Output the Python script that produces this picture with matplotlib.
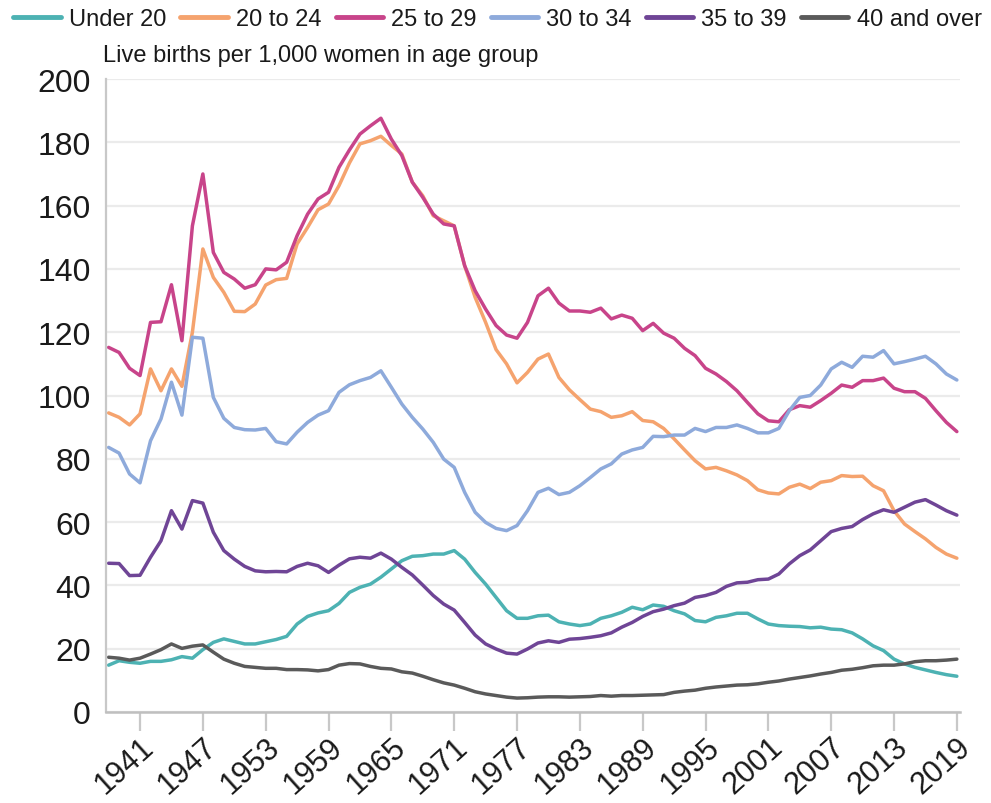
import matplotlib
matplotlib.use("Agg")
import matplotlib.pyplot as plt
import matplotlib.transforms as mtransforms
import numpy as np

plt.rcParams['font.family'] = ['Liberation Sans', 'DejaVu Sans']

years = list(range(1938, 2020))

under_20 = [14.8, 16.2, 15.7, 15.4, 16.0, 16.0, 16.5, 17.5, 17.0, 19.7,
            22.0, 23.1, 22.3, 21.5, 21.5, 22.2, 22.9, 23.9, 27.8, 30.2,
            31.3, 32.0, 34.3, 37.8, 39.4, 40.4, 42.6, 45.2, 47.8, 49.2,
            49.4, 49.9, 49.9, 51.0, 48.3, 44.1, 40.4, 36.2, 32.0, 29.6,
            29.6, 30.4, 30.6, 28.5, 27.8, 27.3, 27.8, 29.6, 30.4, 31.5,
            33.1, 32.3, 33.8, 33.4, 32.0, 31.0, 28.9, 28.5, 29.9, 30.4,
            31.2, 31.2, 29.4, 27.8, 27.3, 27.1, 27.0, 26.6, 26.8, 26.2,
            26.0, 25.0, 23.1, 20.9, 19.4, 16.7, 15.2, 14.1, 13.3, 12.5,
            11.8, 11.3]

age_20_24 = [94.5, 93.1, 90.7, 94.2, 108.4, 101.5, 108.4, 102.9, 120.0, 146.3,
             137.3, 132.6, 126.6, 126.5, 128.9, 134.9, 136.6, 137.0, 147.9, 153.1,
             158.7, 160.5, 166.3, 173.5, 179.5, 180.5, 181.9, 179.0, 176.3, 167.4,
             163.1, 156.8, 155.2, 153.6, 141.0, 131.0, 123.1, 114.5, 110.0, 104.0,
             107.3, 111.5, 113.1, 105.7, 101.8, 98.7, 95.7, 94.9, 93.1, 93.6,
             94.9, 92.1, 91.7, 89.6, 86.3, 82.8, 79.4, 76.8, 77.3, 76.2,
             74.9, 73.1, 70.2, 69.2, 68.9, 71.0, 72.0, 70.6, 72.6, 73.1,
             74.7, 74.4, 74.5, 71.5, 69.9, 63.6, 59.4, 57.0, 54.7, 52.0,
             49.9, 48.6]

age_25_29 = [115.2, 113.6, 108.6, 106.3, 123.1, 123.3, 135.0, 117.3, 153.6, 170.0,
             145.2, 138.9, 136.8, 133.9, 135.0, 140.0, 139.7, 142.1, 150.5, 157.3,
             162.1, 164.2, 172.1, 177.6, 182.6, 185.2, 187.6, 181.0, 175.8, 167.4,
             162.6, 157.3, 154.2, 153.6, 141.0, 133.1, 127.3, 122.1, 119.1, 118.1,
             123.1, 131.5, 133.9, 129.2, 126.7, 126.7, 126.3, 127.6, 124.2, 125.4,
             124.4, 120.5, 122.8, 119.7, 118.1, 114.9, 112.6, 108.6, 106.8, 104.4,
             101.5, 97.8, 94.2, 92.0, 91.7, 95.5, 96.8, 96.3, 98.4, 100.7,
             103.3, 102.6, 104.7, 104.7, 105.5, 102.3, 101.2, 101.2, 99.1, 95.2,
             91.5, 88.6]

age_30_34 = [83.6, 81.8, 75.2, 72.4, 85.7, 92.6, 104.2, 93.8, 118.4, 118.1,
             99.4, 92.8, 89.9, 89.2, 89.1, 89.6, 85.4, 84.7, 88.4, 91.5,
             93.8, 95.2, 101.0, 103.4, 104.7, 105.7, 107.8, 102.6, 97.3, 93.1,
             89.4, 85.2, 79.9, 77.3, 69.4, 63.1, 59.9, 58.0, 57.3, 58.9,
             63.6, 69.4, 70.7, 68.7, 69.4, 71.5, 74.1, 76.8, 78.4, 81.5,
             82.8, 83.6, 87.1, 87.0, 87.5, 87.5, 89.6, 88.6, 89.9, 89.9,
             90.7, 89.6, 88.2, 88.2, 89.6, 95.2, 99.4, 100.0, 103.3, 108.4,
             110.5, 108.9, 112.4, 112.1, 114.2, 110.0, 110.7, 111.5, 112.4, 110.0,
             106.8, 104.9]

age_35_39 = [47.0, 46.9, 43.1, 43.2, 48.9, 54.1, 63.6, 57.8, 66.8, 66.0,
             56.8, 51.0, 48.3, 46.0, 44.6, 44.3, 44.4, 44.3, 46.0, 47.0,
             46.2, 44.1, 46.4, 48.4, 48.9, 48.6, 50.2, 48.3, 45.7, 43.3,
             40.1, 36.8, 34.1, 32.2, 28.3, 24.3, 21.5, 19.9, 18.6, 18.3,
             19.9, 21.8, 22.5, 22.0, 23.0, 23.2, 23.6, 24.1, 25.0, 26.8,
             28.3, 30.2, 31.7, 32.5, 33.6, 34.4, 36.2, 36.8, 37.8, 39.7,
             40.8, 41.0, 41.8, 42.0, 43.6, 46.8, 49.4, 51.2, 54.1, 57.0,
             58.0, 58.6, 60.8, 62.6, 63.9, 63.1, 64.7, 66.3, 67.1, 65.4,
             63.6, 62.2]

age_40_over = [17.3, 17.0, 16.4, 17.0, 18.3, 19.7, 21.5, 20.1, 20.8, 21.2,
               18.9, 16.7, 15.4, 14.4, 14.1, 13.8, 13.8, 13.4, 13.4, 13.3,
               13.0, 13.4, 14.8, 15.3, 15.2, 14.4, 13.8, 13.6, 12.7, 12.3,
               11.3, 10.2, 9.2, 8.5, 7.5, 6.4, 5.7, 5.2, 4.7, 4.4,
               4.5, 4.7, 4.8, 4.8, 4.7, 4.8, 4.9, 5.2, 5.0, 5.2,
               5.2, 5.3, 5.4, 5.5, 6.2, 6.6, 6.9, 7.5, 7.9, 8.2,
               8.5, 8.6, 8.9, 9.4, 9.8, 10.4, 10.9, 11.4, 12.0, 12.5,
               13.2, 13.5, 14.0, 14.6, 14.8, 14.8, 15.2, 15.9, 16.2, 16.2,
               16.4, 16.7]

series_labels = ["Under 20", "20 to 24", "25 to 29", "30 to 34", "35 to 39", "40 and over"]
series_values = [under_20, age_20_24, age_25_29, age_30_34, age_35_39, age_40_over]
colors = ["#4DB2B3", "#F5A36E", "#C8448A", "#8EAADB", "#6F4596", "#5A5A5A"]

tick_years = list(range(1941, 2020, 6))
y_ticks = list(range(0, 201, 20))

fig = plt.figure(figsize=(9.91, 8.04), dpi=100)
ax = fig.add_axes([106/991, 1 - 713/804, (960 - 106)/991, (713 - 80)/804])

for lab, vals, c in zip(series_labels, series_values, colors):
    ax.plot(years, vals, color=c, lw=2.5, label=lab, solid_joinstyle='round',
            solid_capstyle='round')

ax.set_xlim(1937.75, 2019.3)
ax.set_ylim(0, 200)
ax.set_yticks(y_ticks)
ax.set_xticks(tick_years)
ax.set_xticklabels([str(y) for y in tick_years], rotation=42, ha='right',
                   rotation_mode='anchor', va='center')
ax.tick_params(axis='y', length=0, pad=11, labelsize=23, colors='#1a1a1a')
ax.tick_params(axis='x', length=14, width=1.6, color='#C8C8C8', pad=8,
               labelsize=22, labelcolor='#1a1a1a')
offset = mtransforms.ScaledTranslation(0.10, 0.0, fig.dpi_scale_trans)
for lbl in ax.get_xticklabels():
    lbl.set_transform(lbl.get_transform() + offset)
ax.grid(axis='y', color='#EBEBEB', lw=1.6)
ax.set_axisbelow(True)
for s in ['top', 'right']:
    ax.spines[s].set_visible(False)
ax.spines['left'].set_color('#C8C8C8')
ax.spines['left'].set_linewidth(1.6)
ax.spines['bottom'].set_color('#BFBFBF')
ax.spines['bottom'].set_linewidth(1.8)

fig.text(103/991, 1 - 56/804, "Live births per 1,000 women in age group",
         fontsize=17, color='#1a1a1a', va='center', ha='left')

handles, labels = ax.get_legend_handles_labels()
leg = fig.legend(handles, labels, loc='center', bbox_to_anchor=(0.502, 1 - 20/804),
                 ncol=6, frameon=False, fontsize=17, handlelength=2.0,
                 handletextpad=0.35, columnspacing=0.6, borderaxespad=0)
for lh in leg.get_lines():
    lh.set_linewidth(3.5)
for t in leg.get_texts():
    t.set_color('#1a1a1a')

fig.savefig("out.png", dpi=100)
